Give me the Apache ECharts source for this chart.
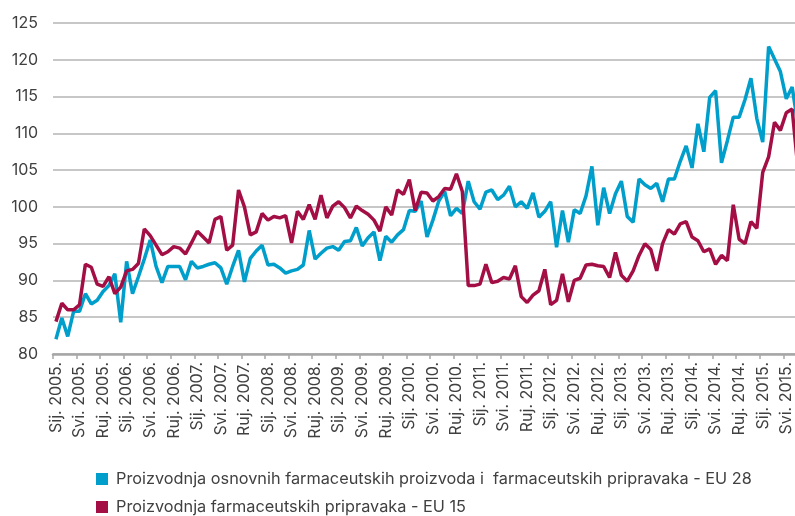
<!DOCTYPE html>
<html>
<head>
<meta charset="utf-8">
<script src="https://cdn.jsdelivr.net/npm/echarts@6/dist/echarts.min.js"></script>
<style>
html,body{margin:0;padding:0;background:#fff;}
#chart{width:795px;height:516px;}
</style>
</head>
<body>
<div id="chart"></div>
<script>
// Month abbreviations (Croatian) and years used to build category labels
const monthNames = ['Sij.','Velj.','Ožu.','Tra.','Svi.','Lip.','Srp.','Kol.','Ruj.','Lis.','Stu.','Pro.'];
const years = [2005,2006,2007,2008,2009,2010,2011,2012,2013,2014,2015];

const seriesNames = [
  'Proizvodnja osnovnih farmaceutskih proizvoda i  farmaceutskih pripravaka - EU 28',
  'Proizvodnja farmaceutskih pripravaka - EU 15'
];

const eu28 = [
82.0,84.9,82.4,85.8,85.8,88.2,86.8,87.3,88.5,89.3,90.9,84.3,
92.6,88.2,90.5,92.9,95.5,91.9,89.7,91.9,91.9,91.9,90.1,92.6,
91.7,91.9,92.2,92.4,91.7,89.5,91.9,94.1,89.8,93.0,94.0,94.8,
92.1,92.2,91.7,91.0,91.3,91.5,92.1,96.8,92.9,93.7,94.4,94.6,
94.1,95.3,95.4,97.2,94.7,95.8,96.6,92.7,96.0,95.2,96.2,96.9,
99.5,99.4,100.8,95.9,98.2,100.8,102.1,98.8,99.8,99.1,103.5,100.7,
99.7,102.0,102.3,101.0,101.6,102.8,100.0,100.7,99.8,101.9,98.6,99.4,
100.7,94.5,99.5,95.2,99.6,99.1,101.5,105.5,97.5,102.6,99.1,101.8,
103.5,98.7,97.9,103.8,103.0,102.5,103.2,100.7,103.8,103.8,106.2,108.3,
105.3,111.3,107.5,114.9,115.8,106.0,109.0,112.2,112.2,114.6,117.5,112.0,
108.8,121.8,120.1,118.4,114.7,116.3,111.0
];

const eu15 = [
84.4,86.9,86.0,86.0,86.7,92.2,91.8,89.5,89.2,90.5,88.2,89.1,
91.3,91.5,92.3,97.0,96.1,94.8,93.5,93.9,94.6,94.4,93.6,95.1,
96.7,95.9,95.1,98.3,98.7,94.1,94.8,102.3,100.0,96.2,96.6,99.1,
98.2,98.7,98.5,98.8,95.1,99.4,98.3,100.3,98.3,101.6,98.5,100.1,
100.7,99.9,98.5,100.1,99.5,99.0,98.2,96.7,100.0,98.9,102.3,101.7,
103.7,99.5,102.0,101.9,100.8,101.4,102.5,102.4,104.5,102.1,89.3,89.3,
89.5,92.2,89.7,89.9,90.4,90.2,92.0,87.8,87.0,88.0,88.6,91.5,
86.7,87.3,90.9,87.1,90.0,90.3,92.1,92.2,92.0,91.9,90.4,93.8,
90.7,89.9,91.3,93.4,95.0,94.2,91.3,95.0,96.9,96.3,97.7,98.0,
95.9,95.4,93.9,94.3,92.2,93.4,92.7,100.3,95.6,95.0,98.0,97.1,
104.7,106.8,111.5,110.4,112.8,113.3,105.0
];

const categories = [];
for (const y of years) for (const m of monthNames) categories.push(m + ' ' + y + '.');
categories.length = eu28.length;

const chart = echarts.init(document.getElementById('chart'), null, {renderer:'canvas'});
const font = 'Inter';
chart.setOption({
  animation: false,
  backgroundColor: '#ffffff',
  grid: {left: 53, top: 23, width: 748, height: 331, containLabel: false, outerBoundsMode: 'none'},
  legend: {
    orient: 'vertical',
    left: 96, top: 471, bottom: -60,
    padding: 0,
    itemWidth: 12, itemHeight: 12, itemGap: 12,
    icon: 'rect',
    selectedMode: false,
    textStyle: {fontFamily: font, fontSize: 16.3, color: '#404040', padding: [0,0,0,3]},
    data: seriesNames
  },
  xAxis: {
    type: 'category',
    data: categories,
    boundaryGap: true,
    axisLine: {lineStyle: {color: '#a6a6a6', width: 2.5}},
    axisTick: {show: true, interval: 3, length: 5, lineStyle: {color: '#a6a6a6', width: 1.5}},
    axisLabel: {interval: 3, rotate: 90, margin: 8, fontFamily: font, fontSize: 16, color: '#404040'},
    splitLine: {show: false}
  },
  yAxis: {
    type: 'value',
    min: 80, max: 125, interval: 5,
    axisLine: {show: false},
    axisTick: {show: false},
    axisLabel: {margin: 15, fontFamily: font, fontSize: 16, color: '#404040'},
    splitLine: {lineStyle: {color: '#b5b5b5', width: 1.5}}
  },
  series: [
    {name: seriesNames[0], type: 'line', data: eu28, symbol: 'none', smooth: false,
     lineStyle: {color: '#009ecb', width: 3.5}, itemStyle: {color: '#009ecb'}},
    {name: seriesNames[1], type: 'line', data: eu15, symbol: 'none', smooth: false,
     lineStyle: {color: '#a30f45', width: 3.5}, itemStyle: {color: '#a30f45'}}
  ]
});
</script>
</body>
</html>
